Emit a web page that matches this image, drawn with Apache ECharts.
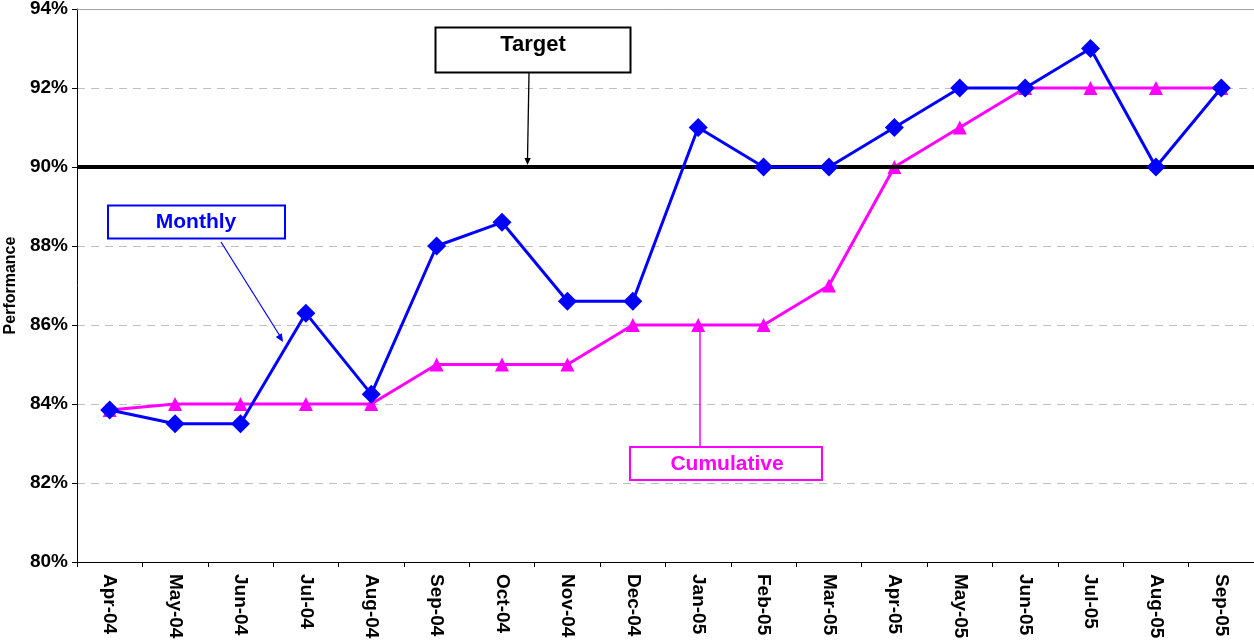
<!DOCTYPE html>
<html><head><meta charset="utf-8">
<script src="https://cdn.jsdelivr.net/npm/echarts@6/dist/echarts.min.js"></script>
<style>html,body{margin:0;padding:0;background:#fff}#c{width:1254px;height:642px}</style>
</head><body><div id="c"></div>
<script>
var categories = ['Apr-04','May-04','Jun-04','Jul-04','Aug-04','Sep-04','Oct-04','Nov-04','Dec-04','Jan-05','Feb-05','Mar-05','Apr-05','May-05','Jun-05','Jul-05','Aug-05','Sep-05'];
var monthly = [83.85, 83.5, 83.5, 86.3, 84.25, 88.0, 88.6, 86.6, 86.6, 91.0, 90.0, 90.0, 91.0, 92.0, 92.0, 93.0, 90.0, 92.0];
var cumulative = [83.85, 84.0, 84.0, 84.0, 84.0, 85.0, 85.0, 85.0, 86.0, 86.0, 86.0, 87.0, 90.0, 91.0, 92.0, 92.0, 92.0, 92.0];
var target = 90;
var yMin = 80, yMax = 94, yStep = 2;

var chart = echarts.init(document.getElementById('c'));
var F = 'Liberation Sans, Arial, sans-serif';
function arrowHead(x, y, angleDeg, color, size) {
  var a = angleDeg * Math.PI / 180, s = size || 8, w = s * 0.45;
  var bx = x - s * Math.cos(a), by = y - s * Math.sin(a);
  var px = -Math.sin(a), py = Math.cos(a);
  return {type:'polygon', shape:{points:[[x,y],[bx+px*w,by+py*w],[bx-px*w,by-py*w]]}, style:{fill:color}, z:20};
}
function ang(x1,y1,x2,y2){return Math.atan2(y2-y1,x2-x1)*180/Math.PI;}
chart.setOption({
  animation:false,
  grid:{left:77, right:0, top:9, bottom:80, containLabel:false, outerBoundsMode:'none'},
  xAxis:{type:'category', data:categories, boundaryGap:true,
    axisLine:{lineStyle:{color:'#000', width:1}},
    axisTick:{show:true, interval:0, length:5, lineStyle:{color:'#000'}},
    axisLabel:{rotate:-90, interval:0, margin:12, color:'#000', fontWeight:'bold', fontSize:19, fontFamily:F}},
  yAxis:{type:'value', min:yMin, max:yMax, interval:yStep,
    name:'Performance', nameLocation:'middle', nameGap:56, nameRotate:90,
    nameTextStyle:{color:'#000', fontWeight:'bold', fontSize:16, fontFamily:F},
    axisLine:{show:true, lineStyle:{color:'#000', width:1}},
    axisTick:{show:true, length:5, lineStyle:{color:'#000'}},
    axisLabel:{formatter:function(v){return v+'%';}, color:'#000', fontWeight:'bold', fontSize:19, fontFamily:F, margin:9},
    splitLine:{show:true, lineStyle:{color:'#c0c0c0', type:[8,6], width:1}}},
  series:[
    {name:'Target', type:'line', data:[], markLine:{silent:true, symbol:'none', label:{show:false},
      data:[{yAxis:target, lineStyle:{color:'#000', width:4, type:'solid'}},
            {yAxis:yMax, lineStyle:{color:'#a0a0a0', width:1, type:'solid'}}]}, z:3},
    {name:'Cumulative', type:'line', data:cumulative, symbol:'triangle', symbolSize:14,
      lineStyle:{color:'#ff00ff', width:3}, itemStyle:{color:'#ff00ff'}, z:4},
    {name:'Monthly', type:'line', data:monthly, symbol:'diamond', symbolSize:19,
      lineStyle:{color:'#0000ff', width:3}, itemStyle:{color:'#0000ff'}, z:5}
  ],
  graphic:[
    {type:'rect', shape:{x:435.5, y:27.5, width:195, height:45}, style:{fill:'#fff', stroke:'#000', lineWidth:2}, z:10},
    {type:'text', x:533, y:45, style:{text:'Target', fill:'#000', font:'bold 22px '+F, textAlign:'center', textVerticalAlign:'middle'}, z:11},
    {type:'line', shape:{x1:529, y1:73, x2:527.5, y2:160}, style:{stroke:'#000', lineWidth:1.3}, z:10},
    arrowHead(527.5, 165, ang(529,73,527.5,165), '#000', 7),
    {type:'rect', shape:{x:108, y:205.5, width:177, height:33}, style:{fill:'#fff', stroke:'#0000ff', lineWidth:2}, z:10},
    {type:'text', x:196, y:222, style:{text:'Monthly', fill:'#0000ff', font:'bold 21px '+F, textAlign:'center', textVerticalAlign:'middle'}, z:11},
    {type:'line', shape:{x1:221, y1:242, x2:280, y2:336}, style:{stroke:'#0000ff', lineWidth:1.2}, z:10},
    arrowHead(283, 342, ang(221,242,283,342), '#0000ff', 8),
    {type:'rect', shape:{x:630, y:447, width:192, height:33}, style:{fill:'#fff', stroke:'#ff00ff', lineWidth:2}, z:10},
    {type:'text', x:727, y:464, style:{text:'Cumulative', fill:'#ff00ff', font:'bold 21px '+F, textAlign:'center', textVerticalAlign:'middle'}, z:11},
    {type:'line', shape:{x1:700, y1:446, x2:700, y2:332}, style:{stroke:'#ff00ff', lineWidth:1.5}, z:3}
  ]
});
</script></body></html>
